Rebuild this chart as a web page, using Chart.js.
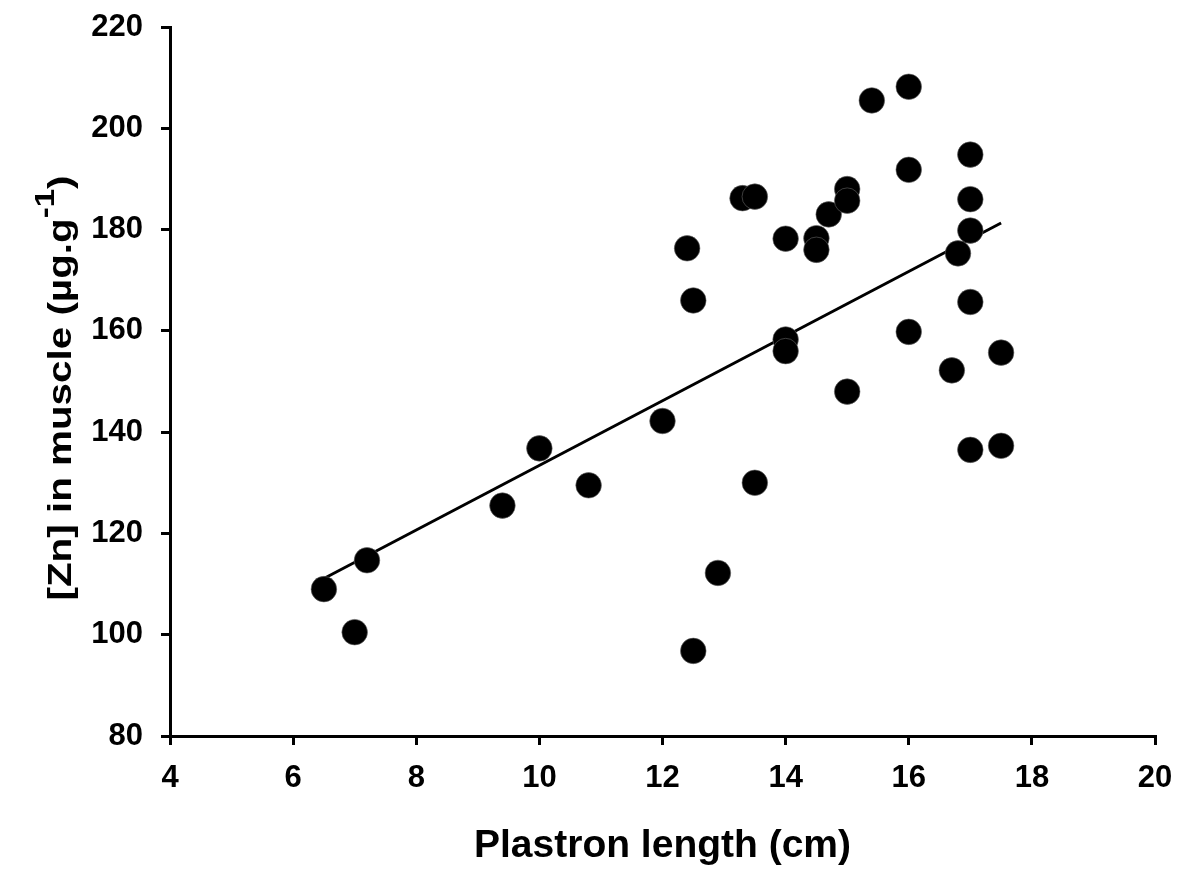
<!DOCTYPE html>
<html>
<head>
<meta charset="utf-8">
<script src="https://cdn.jsdelivr.net/npm/chart.js@4/dist/chart.umd.min.js"></script>
<style>
  body { margin: 0; background: #fff; }
  #wrap { width: 1179px; height: 870px; }
</style>
</head>
<body>
<div id="wrap"><canvas id="chartZn" width="1179" height="870"></canvas></div>
<script>
// Datos
const plastronLength = [6.5, 7, 7.2, 9.4, 10, 10.8, 12, 12.4, 12.5, 12.5, 12.9, 13.3, 13.5, 13.5,
    14, 14, 14, 14.5, 14.5, 14.7, 15, 15, 15, 15.4, 16, 16, 16, 16.7, 16.8, 17, 17, 17, 17, 17, 17.5, 17.5];
const znMuscle = [109, 100.5, 114.7, 125.5, 136.8, 129.5, 142.2, 176.3, 166, 96.8, 112.2, 186.2, 186.5, 130,
    178.2, 158.3, 156, 178.3, 176, 183, 188, 185.7, 148, 205.5, 208.2, 191.8, 159.8, 152.2, 175.3, 194.8, 186, 179.8, 165.7, 136.5, 155.7, 137.3];

// Recta de regresión (extremos)
const fitX = [6.5, 17.5];
const fitY = [111.1, 181.3];

const xTicks = [4, 6, 8, 10, 12, 14, 16, 18, 20];
const yTicks = [80, 100, 120, 140, 160, 180, 200, 220];

const FONT = '"Liberation Sans", Arial, sans-serif';

// ===== TÍTULO DEL EJE Y CON SUPERÍNDICE =====
const yTitlePlugin = {
    id: 'yTitle',
    afterDraw(chart) {
        const ctx = chart.ctx;
        const cx = 62;
        const cy = 388;
        const targetLen = 425;
        ctx.save();
        ctx.translate(cx, cy);
        ctx.rotate(-Math.PI / 2);
        ctx.fillStyle = '#000';
        ctx.textBaseline = 'middle';
        const main = '[Zn] in muscle (µg.g';
        const sup = '-1';
        const end = ')';
        ctx.font = 'bold 33px ' + FONT;
        const wMain = ctx.measureText(main).width;
        const wEnd = ctx.measureText(end).width;
        ctx.font = 'bold 27px ' + FONT;
        const wSup = ctx.measureText(sup).width;
        const total = wMain + wSup + wEnd;
        ctx.scale(targetLen / total, 1);
        let x = -total / 2;
        ctx.font = 'bold 33px ' + FONT;
        ctx.fillText(main, x, 0);
        x += wMain;
        ctx.font = 'bold 27px ' + FONT;
        ctx.fillText(sup, x, -15);
        x += wSup;
        ctx.font = 'bold 33px ' + FONT;
        ctx.fillText(end, x, 0);
        ctx.restore();
    }
};

const ctx = document.getElementById('chartZn');

new Chart(ctx, {
    type: 'scatter',
    data: {
        datasets: [
            {
                label: 'Zn',
                data: plastronLength.map((x, i) => ({ x: x, y: znMuscle[i] })),
                backgroundColor: '#000',
                borderColor: '#666',
                borderWidth: 0.6,
                pointRadius: 12.8,
                order: 1
            },
            {
                label: 'Ajuste',
                type: 'line',
                data: fitX.map((x, i) => ({ x: x, y: fitY[i] })),
                borderColor: '#000',
                borderWidth: 3,
                pointRadius: 0,
                fill: false,
                order: 2
            }
        ]
    },
    options: {
        responsive: false,
        animation: false,
        layout: { padding: { top: 27, right: 24, left: 0, bottom: 0 } },
        plugins: {
            legend: { display: false },
            tooltip: { enabled: false }
        },
        scales: {
            x: {
                type: 'linear',
                min: 4,
                max: 20,
                afterBuildTicks: (axis) => { axis.ticks = xTicks.map(v => ({ value: v })); },
                afterFit: (axis) => {
                    axis.height = 134;
                    axis.paddingLeft = 0;
                    axis.paddingRight = 0;
                },
                grid: {
                    drawOnChartArea: false,
                    drawTicks: true,
                    tickLength: 9,
                    lineWidth: 3,
                    color: '#000'
                },
                border: { display: true, color: '#000', width: 3 },
                ticks: {
                    color: '#000',
                    padding: 15,
                    font: { family: FONT, size: 31, weight: 'bold' }
                },
                title: {
                    display: true,
                    text: 'Plastron length (cm)',
                    color: '#000',
                    padding: { top: 16, bottom: 0 },
                    font: { family: FONT, size: 39, weight: 'bold' }
                }
            },
            y: {
                type: 'linear',
                min: 80,
                max: 220,
                afterBuildTicks: (axis) => { axis.ticks = yTicks.map(v => ({ value: v })); },
                afterFit: (axis) => {
                    axis.width = 170;
                    axis.paddingTop = 0;
                    axis.paddingBottom = 0;
                },
                grid: {
                    drawOnChartArea: false,
                    drawTicks: true,
                    tickLength: 9,
                    lineWidth: 3,
                    color: '#000'
                },
                border: { display: true, color: '#000', width: 3 },
                ticks: {
                    color: '#000',
                    padding: 18,
                    font: { family: FONT, size: 31, weight: 'bold' }
                }
            }
        }
    },
    plugins: [yTitlePlugin]
});
</script>
</body>
</html>
